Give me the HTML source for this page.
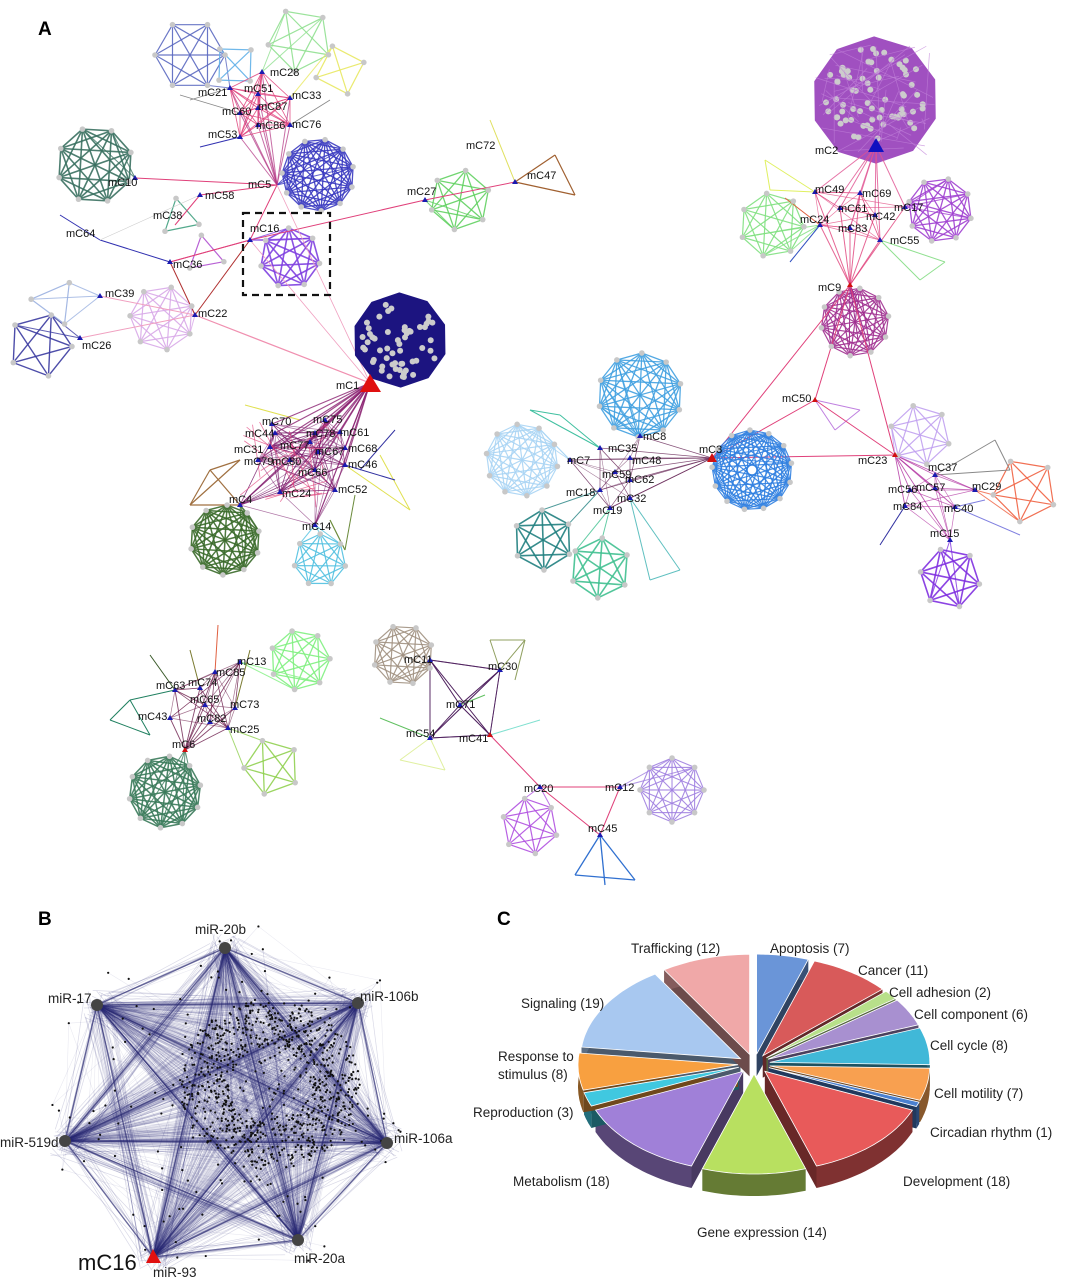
<!DOCTYPE html>
<html><head><meta charset="utf-8"><style>
html,body{margin:0;padding:0;background:#fff}
svg{display:block}
text{font-family:"Liberation Sans",sans-serif}
.l{font-size:11px;fill:#111}
.p{font-size:13.5px;fill:#222}
</style></head><body>
<svg id="s" width="1072" height="1280" viewBox="0 0 1072 1280" xmlns="http://www.w3.org/2000/svg">
<rect width="1072" height="1280" fill="#fff"/>
<g id="g"></g>
<rect x="243" y="213" width="87" height="82" fill="none" stroke="#111" stroke-width="2.2" stroke-dasharray="7,5"/>
<g id="labels">
<text x="38" y="35" font-size="19" font-weight="bold">A</text>
<text x="38" y="925" font-size="19" font-weight="bold">B</text>
<text x="497" y="925" font-size="19" font-weight="bold">C</text>
<g class="l">
<text x="270" y="76">mC28</text><text x="198" y="96">mC21</text><text x="244" y="92">mC51</text><text x="292" y="99">mC33</text>
<text x="258" y="110">mC87</text><text x="222" y="115">mC60</text><text x="256" y="129">mC86</text><text x="292" y="128">mC76</text>
<text x="208" y="138">mC53</text><text x="248" y="188">mC5</text><text x="108" y="186">mC10</text><text x="205" y="199">mC58</text>
<text x="153" y="219">mC38</text><text x="250" y="232">mC16</text><text x="66" y="237">mC64</text><text x="173" y="268">mC36</text>
<text x="105" y="297">mC39</text><text x="198" y="317">mC22</text><text x="82" y="349">mC26</text>
<text x="466" y="149">mC72</text><text x="527" y="179">mC47</text><text x="407" y="195">mC27</text>
<text x="336" y="389">mC1</text>
<text x="262" y="425">mC70</text><text x="313" y="423">mC75</text><text x="245" y="437">mC44</text><text x="306" y="437">mC78</text>
<text x="340" y="436">mC61</text><text x="234" y="453">mC31</text><text x="280" y="449">mC77</text><text x="315" y="455">mC67</text>
<text x="348" y="452">mC68</text><text x="244" y="465">mC79</text><text x="272" y="465">mC80</text><text x="298" y="476">mC66</text>
<text x="348" y="468">mC46</text><text x="338" y="493">mC52</text><text x="229" y="503">mC4</text><text x="282" y="497">mC24</text>
<text x="302" y="530">mC14</text>
<text x="815" y="154">mC2</text><text x="815" y="193">mC49</text><text x="862" y="197">mC69</text><text x="838" y="212">mC61</text>
<text x="894" y="211">mC17</text><text x="866" y="220">mC42</text><text x="800" y="223">mC24</text><text x="838" y="232">mC83</text>
<text x="890" y="244">mC55</text><text x="818" y="291">mC9</text><text x="782" y="402">mC50</text>
<text x="699" y="453">mC3</text><text x="643" y="440">mC8</text><text x="608" y="452">mC35</text><text x="567" y="464">mC7</text>
<text x="632" y="464">mC48</text><text x="602" y="478">mC59</text><text x="625" y="483">mC62</text><text x="566" y="496">mC18</text>
<text x="617" y="502">mC32</text><text x="593" y="514">mC19</text>
<text x="858" y="464">mC23</text><text x="928" y="471">mC37</text><text x="888" y="493">mC56</text><text x="916" y="491">mC57</text>
<text x="972" y="490">mC29</text><text x="893" y="510">mC84</text><text x="944" y="512">mC40</text><text x="930" y="537">mC15</text>
<text x="216" y="676">mC85</text><text x="156" y="689">mC63</text><text x="188" y="686">mC74</text><text x="237" y="665">mC13</text>
<text x="190" y="703">mC65</text><text x="230" y="708">mC73</text><text x="138" y="720">mC43</text><text x="197" y="722">mC82</text>
<text x="230" y="733">mC25</text><text x="172" y="748">mC6</text>
<text x="404" y="663">mC11</text><text x="488" y="670">mC30</text><text x="446" y="708">mC71</text><text x="406" y="737">mC54</text>
<text x="459" y="742">mC41</text><text x="524" y="792">mC20</text><text x="605" y="791">mC12</text><text x="588" y="832">mC45</text>
</g>
<g class="p">
<text x="195" y="934">miR-20b</text><text x="360" y="1001">miR-106b</text><text x="48" y="1003">miR-17</text>
<text x="394" y="1143">miR-106a</text><text x="0" y="1147">miR-519d</text><text x="294" y="1263">miR-20a</text>
<text x="153" y="1277">miR-93</text>
</g>
<text x="78" y="1270" font-size="22" fill="#111">mC16</text>
<g class="p">
<text x="631" y="953">Trafficking (12)</text><text x="770" y="953">Apoptosis (7)</text><text x="858" y="975">Cancer (11)</text>
<text x="889" y="997">Cell adhesion (2)</text><text x="914" y="1019">Cell component (6)</text><text x="930" y="1050">Cell cycle (8)</text>
<text x="934" y="1098">Cell motility (7)</text><text x="930" y="1137">Circadian rhythm (1)</text><text x="903" y="1186">Development (18)</text>
<text x="697" y="1237">Gene expression (14)</text><text x="513" y="1186">Metabolism (18)</text><text x="473" y="1117">Reproduction (3)</text>
<text x="498" y="1061">Response to</text><text x="498" y="1079">stimulus (8)</text><text x="521" y="1008">Signaling (19)</text>
</g>
</g>
</svg>
<script>
const ns="http://www.w3.org/2000/svg",G=document.getElementById('g');
function el(t,a,p){const e=document.createElementNS(ns,t);for(const k in a)e.setAttribute(k,a[k]);(p||G).appendChild(e);return e}
let seed=7;function rnd(){seed=(seed*16807)%2147483647;return seed/2147483647}
function ln(x1,y1,x2,y2,c,w,o){el('line',{x1,y1,x2,y2,stroke:c,'stroke-width':w||1,'stroke-opacity':o==null?1:o})}
const dots=[];
function clique(cx,cy,r,n,c,w,ry){ry=ry||r;const p=[];const a0=rnd()*6;
 for(let i=0;i<n;i++){const a=a0+i*2*Math.PI/n;p.push([cx+r*Math.cos(a),cy+ry*Math.sin(a)])}
 for(let i=0;i<n;i++)for(let j=i+1;j<n;j++)ln(p[i][0],p[i][1],p[j][0],p[j][1],c,w||1.2,.9);
 p.forEach(q=>dots.push(q));return p}
function blob(cx,cy,r,fill,n){const p=[];for(let i=0;i<10;i++){const a=i*Math.PI/5+.3;p.push((cx+r*Math.cos(a))+','+(cy+r*Math.sin(a)))}
 el('polygon',{points:p.join(' '),fill,stroke:fill,'stroke-width':3});
 for(let i=0;i<n;i++){const a=rnd()*6.28,d=Math.sqrt(rnd())*r*.85;el('circle',{cx:cx+d*Math.cos(a),cy:cy+d*Math.sin(a),r:3,fill:'#ccc'})}}
const hubs=[];function H(x,y,c){hubs.push([x,y,c||'#1a1ab0'])}
const PK='#e0407a',DP='#6a1a5a';
function fan(x,y,pts,c,w,o){pts.forEach(p=>ln(x,y,p[0],p[1],c,w||1,o==null?.8:o))}
let p;
p=clique(190,55,35,6,'#5a68c0');fan(230,88,[p[0],p[1]],'#5a68c0');
p=clique(235,65,22,4,'#60b0e8');
p=clique(300,40,32,5,'#90e090');fan(262,72,[p[2],p[3]],'#90e090');
p=clique(340,70,25,4,'#e8e860');fan(290,98,[p[2]],'#e8e860');
p=clique(95,165,38,8,'#3a7060',1.6);fan(135,178,[p[0],p[1]],'#3a7060');
p=clique(318,175,36,11,'#3a3ac0',1.3);fan(277,185,[p[3],p[4],p[5]],'#3a3ac0');
p=clique(290,258,30,7,'#8040e0',1.6);fan(250,240,[p[2],p[3],p[4]],'#8040e0');
p=clique(180,218,20,3,'#40a080');p=clique(205,255,20,3,'#b050d0');
ln(100,240,170,262,'#3030b0',1);ln(60,215,100,240,'#3030b0',1);
p=clique(55,302,24,3,'#9ab0e0');fan(100,296,p,'#9ab0e0');
p=clique(162,318,32,7,'#d8a8e8',1.2);fan(195,315,[p[2],p[3]],'#d8a8e8');
p=clique(40,345,32,5,'#3a3aa0',1.4);fan(80,338,[p[0],p[1]],'#3a3aa0');
p=clique(460,200,30,6,'#60d060',1.3);fan(425,200,[p[2],p[3]],'#60d060');
ln(490,120,515,182,'#e0e060',1);ln(515,182,555,155,'#a06030',1.2);ln(515,182,575,195,'#a06030',1.2);ln(555,155,575,195,'#a06030',1.2);
ln(190,100,230,88,'#888',.8);ln(180,95,240,113,'#888',.8);ln(330,100,290,125,'#888',.8);ln(200,147,240,137,'#3030b0');
const tl=[[230,88],[258,94],[262,72],[258,108],[290,98],[240,113],[258,125],[290,125],[240,137]];
tl.forEach(a=>{tl.forEach(b=>ln(a[0],a[1],b[0],b[1],PK,.8,.6));ln(a[0],a[1],277,185,'#b03080',1,.7);H(a[0],a[1])});
[[135,178],[200,195],[250,240],[425,200],[515,182],[170,262],[100,296],[195,315],[80,338]].forEach(a=>H(a[0],a[1]));
ln(135,178,277,185,PK);ln(200,195,277,185,PK);ln(250,240,277,185,PK);ln(250,240,425,200,PK);ln(425,200,515,182,PK);
ln(170,262,250,240,PK);ln(195,315,250,240,'#b03030');ln(195,315,170,262,'#b03030');ln(100,296,195,315,'#f0a0c0');
ln(80,338,195,315,'#f0a0c0');ln(195,315,370,383,'#f090b0',1.2);ln(250,240,170,262,PK);ln(277,185,370,383,'#f0a0c0',.8);
ln(250,240,370,383,'#f0a0c0',.8);ln(175,225,200,195,PK);ln(100,240,200,195,'#ccc',.6);
blob(400,340,46,'#1c1480',55);
const m1=[[272,424],[325,420],[275,433],[315,433],[340,432],[270,447],[310,442],[318,452],[345,448],[258,460],[290,460],[315,470],[345,465],[335,490],[240,505],[280,492],[315,525]];
p=clique(225,540,35,10,'#3a6a2a',1.5);fan(240,505,p.slice(0,4),'#3a6a2a');
p=clique(320,560,26,7,'#50c0e0',1.2);fan(315,525,p.slice(3,6),'#50c0e0');
ln(210,470,190,505,'#a07040',1.2);ln(210,470,240,505,'#a07040',1.2);ln(190,505,240,505,'#a07040',1.2);
ln(240,460,190,505,'#a07040',1.2);ln(240,460,210,470,'#a07040',1.2);
ln(380,455,410,510,'#e0e050');ln(345,465,410,510,'#e0e050');ln(330,520,345,550,'#6a8a3a',1.2);ln(355,495,345,550,'#6a8a3a');
ln(245,405,300,420,'#e0e050');ln(345,465,395,480,'#3030a0');ln(360,470,395,430,'#3030a0');
m1.forEach(a=>{ln(a[0],a[1],370,383,'#8a2070',1.2,.8);m1.forEach(b=>{if(rnd()<.5)ln(a[0],a[1],b[0],b[1],'#7a1a6a',.7,.6)});H(a[0],a[1])});
for(let i=0;i<20;i++)ln(240+rnd()*100,420+rnd()*90,240+rnd()*100,420+rnd()*90,PK,.8,.7);
el('polygon',{points:'370,374 360,392 381,392',fill:'#e01010'});
blob(875,100,62,'#a050c0',70);
for(let i=0;i<40;i++){ln(815+rnd()*120,45+rnd()*110,815+rnd()*120,45+rnd()*110,'#c080d8',.7,.7)}
p=clique(940,210,32,8,'#a040d0',1.3);fan(905,207,[p[3],p[4],p[5]],'#a040d0');
p=clique(772,225,32,7,'#80e080',1.2);fan(820,225,[p[0],p[1],p[6]],'#80e080');
p=clique(855,322,34,10,'#a03090',1.2);
ln(765,160,815,192,'#e0f060');ln(765,160,770,190,'#e0f060');ln(770,190,815,192,'#e0f060');
ln(880,240,945,262,'#90e090');ln(880,240,920,280,'#90e090');ln(920,280,945,262,'#90e090');
ln(790,262,820,225,'#3050c0');ln(785,198,820,225,'#e06040');
const m2=[[815,192],[860,193],[840,208],[905,207],[875,215],[820,225],[850,228],[880,240]];
m2.forEach(a=>{ln(a[0],a[1],876,145,'#e05090',1,.8);ln(a[0],a[1],850,285,PK,1,.8);m2.forEach(b=>{if(rnd()<.4)ln(a[0],a[1],b[0],b[1],PK,.7,.7)});H(a[0],a[1])});
el('polygon',{points:'876,138 868,152 884,152',fill:'#1010c0'});
for(let i=0;i<6;i++)ln(850,285,830+rnd()*50,300+rnd()*50,'#a03090',1);
ln(850,285,712,458,PK,1);ln(850,285,815,400,PK,1);ln(850,285,895,455,PK,1);ln(712,458,815,400,PK,1);
ln(815,400,860,410,'#c080e0');ln(815,400,835,430,'#c080e0');ln(860,410,835,430,'#c080e0');
ln(712,458,895,455,PK,1);ln(815,400,895,455,PK,1);
p=clique(752,470,40,13,'#3080e0',1.2);fan(712,458,p.slice(5,9),'#3080e0');
p=clique(640,395,42,10,'#40a0e0',1.3);fan(640,436,p.slice(1,4),'#40a0e0');
p=clique(522,460,36,10,'#a8d4f4',1.2);fan(570,460,p.slice(7,10),'#a8d4f4');
p=clique(543,540,30,6,'#208080',1.6);fan(600,490,[p[4],p[5]],'#208080');
p=clique(600,568,30,6,'#40c090',1.6);fan(610,508,[p[3],p[4]],'#40c090');
ln(530,410,600,448,'#40c0a0');ln(560,415,600,448,'#40c0a0');ln(530,410,560,415,'#40c0a0');
ln(630,498,650,580,'#60c0c0');ln(630,498,680,570,'#60c0c0');ln(650,580,680,570,'#60c0c0');
const m3=[[640,436],[600,448],[570,460],[630,458],[615,472],[630,480],[600,490],[630,498],[610,508]];
m3.forEach(a=>{ln(a[0],a[1],712,458,'#6a2a5a',.8,.8);m3.forEach(b=>{if(rnd()<.4)ln(a[0],a[1],b[0],b[1],'#6a2a5a',.6,.6)});H(a[0],a[1])});
el('polygon',{points:'712,453 707,462 717,462',fill:'#d01010'});
p=clique(920,435,30,6,'#c0a0f0',1.2);fan(895,455,[p[2],p[3]],'#c0a0f0');
p=clique(1025,490,32,5,'#f06040',1.2);fan(975,490,[p[2],p[3]],'#f06040');
ln(935,475,995,440,'#888');ln(935,475,1010,470,'#888');ln(995,440,1010,470,'#888');
p=clique(950,578,30,6,'#8030e0',1.6);fan(950,540,[p[3],p[4]],'#8030e0');
ln(905,506,880,545,'#3030a0');ln(955,507,1020,535,'#8080e0');ln(955,507,985,500,'#8080e0');
const m4=[[935,475],[910,490],[935,488],[975,490],[905,506],[955,507],[950,540]];
m4.forEach(a=>{ln(a[0],a[1],895,455,'#b030a0',.9,.8);m4.forEach(b=>{if(rnd()<.4)ln(a[0],a[1],b[0],b[1],'#b030a0',.7,.7)});H(a[0],a[1])});
H(895,455,'#d01010');H(815,400,'#d01010');H(850,285,'#d01010');
p=clique(165,792,36,10,'#3a7a5a',1.5);fan(185,750,p.slice(4,8),'#3a7a5a');
p=clique(300,660,30,7,'#80f080',1.3);fan(240,662,[p[3],p[4]],'#80f080');
p=clique(272,767,28,5,'#90d050',1.3);fan(228,728,[p[2],p[3]],'#90d050');
ln(130,700,110,720,'#208060');ln(110,720,150,735,'#208060');ln(130,700,150,735,'#208060');ln(130,700,175,690,'#208060');
ln(215,672,218,625,'#e06040');ln(190,650,200,688,'#7a7a30');ln(150,655,175,690,'#3a5a2a');ln(250,650,235,708,'#7a7a30');
const m6=[[240,662],[215,672],[175,690],[200,688],[205,705],[235,708],[170,718],[210,722],[228,728]];
m6.forEach(a=>{ln(a[0],a[1],185,750,'#6a1a4a',.9,.8);m6.forEach(b=>{if(rnd()<.5)ln(a[0],a[1],b[0],b[1],'#6a1a4a',.7,.6)});H(a[0],a[1])});
H(185,750,'#d01010');
p=clique(403,655,30,8,'#a09080',1.2);fan(430,660,[p[0],p[1]],'#a09080');
ln(500,670,490,640,'#90a060');ln(490,640,525,640,'#90a060');ln(525,640,515,680,'#90a060');ln(500,670,525,640,'#90a060');
ln(430,738,400,760,'#e0f0a0');ln(430,738,445,770,'#e0f0a0');ln(400,760,445,770,'#e0f0a0');
ln(490,735,540,720,'#80e0d0');ln(430,738,380,718,'#60c060');ln(460,705,485,695,'#60c060');
const m11=[[430,660],[500,670],[460,705],[430,738],[490,735]];
m11.forEach(a=>{m11.forEach(b=>ln(a[0],a[1],b[0],b[1],'#4a1a5a',.9,.8));H(a[0],a[1])});
ln(490,735,540,787,PK);ln(540,787,620,787,PK);ln(540,787,600,835,PK);ln(600,835,620,787,PK);
p=clique(530,826,28,6,'#b050e0',1.2);fan(540,787,[p[4],p[5]],'#b050e0');
p=clique(672,790,32,8,'#a080e0',1.1);fan(620,787,[p[3],p[4]],'#a080e0');
ln(600,835,575,875,'#3070d0',1.3);ln(600,835,635,880,'#3070d0',1.3);ln(575,875,635,880,'#3070d0',1.3);ln(600,835,605,885,'#3070d0',1.3);
[[540,787],[620,787],[600,835]].forEach(a=>H(a[0],a[1]));H(490,735,'#d01010');
dots.forEach(d=>el('circle',{cx:d[0],cy:d[1],r:2.8,fill:'#c8c8c8'}));
hubs.forEach(h=>el('polygon',{points:`${h[0]},${h[1]-3} ${h[0]-3},${h[1]+2} ${h[0]+3},${h[1]+2}`,fill:h[2]}));
// ---- Panel B
const BH=[[225,948],[358,1003],[387,1143],[298,1240],[153,1257],[65,1141],[97,1005]];
const bp=[];const cx=270,cy=1085;
for(let i=0;i<750;i++){const a=rnd()*6.28,d=40+rnd()*50;bp.push([cx+d*Math.cos(a),cy+d*0.95*Math.sin(a)])}
for(let i=0;i<250;i++){const h=BH[Math.floor(rnd()*7)],t=rnd();const q=[h[0]+(cx-h[0])*t+(rnd()-.5)*70,h[1]+(cy-h[1])*t+(rnd()-.5)*70];bp.push(q)}
BH.forEach(h=>{for(let i=0;i<280;i++){const q=bp[Math.floor(rnd()*bp.length)];ln(h[0],h[1],q[0],q[1],'#2a2a7a',.6,.1)}});
for(let i=0;i<7;i++)for(let j=0;j<7;j++){if(i==j)continue;const h=BH[i],k=BH[j];const d=Math.min((i-j+7)%7,(j-i+7)%7);
 const n=d==1?4:14;for(let m=0;m<n;m++)ln(h[0]+(rnd()-.5)*4,h[1]+(rnd()-.5)*4,k[0]+(rnd()-.5)*30,k[1]+(rnd()-.5)*30,'#2a2a7a',.7,.18)}
BH.forEach(h=>BH.forEach(k=>ln(h[0],h[1],k[0],k[1],'#2a2a70',1.3,.45)));
bp.forEach(q=>el('circle',{cx:q[0],cy:q[1],r:1.1,fill:'#111'}));
BH.forEach((h,i)=>{if(i==4)el('polygon',{points:'153,1249 146,1263 161,1263',fill:'#e01010'});else el('circle',{cx:h[0],cy:h[1],r:6,fill:'#444'})});
// ---- Panel C pie
const S=[[7,'#6a95d8'],[11,'#d85a5a'],[2,'#b8e08a'],[6,'#a890d0'],[8,'#40b8d8'],[7,'#f8a050'],[1,'#4a80d0'],[18,'#e85a5a'],[14,'#b8e060'],[18,'#a080d8'],[3,'#40c8e0'],[8,'#f8a040'],[19,'#a8c8f0'],[12,'#f0a8a8']];
const PX=754,PY=1064,RX=160,RY=100,D=22,EX=10;
function dk(c,f){const n=parseInt(c.slice(1),16);let r=n>>16,g=(n>>8)&255,b=n&255;return `rgb(${r*f|0},${g*f|0},${b*f|0})`}
let acc=0;const tops=[],sides=[];
S.forEach(([v,c],i)=>{const a0=acc/134*2*Math.PI,a1=(acc+v)/134*2*Math.PI;acc+=v;const am=(a0+a1)/2;
 const ox=PX+EX*1.6*Math.sin(am),oy=PY-EX*Math.cos(am);
 const P=a=>[ox+RX*Math.sin(a),oy-RY*Math.cos(a)];
 const pts=[];for(let k=0;k<=24;k++)pts.push(P(a0+(a1-a0)*k/24));
 const top=`M${ox},${oy} `+pts.map(q=>'L'+q[0].toFixed(1)+','+q[1].toFixed(1)).join(' ')+'Z';
 const side='M'+pts.map(q=>q[0].toFixed(1)+','+q[1].toFixed(1)).join(' L')+' '+pts.slice().reverse().map(q=>'L'+q[0].toFixed(1)+','+(q[1]+D).toFixed(1)).join(' ')+'Z';
 const s1=`M${ox},${oy} L${pts[0][0]},${pts[0][1]} L${pts[0][0]},${pts[0][1]+D} L${ox},${oy+D}Z`;
 const s2=`M${ox},${oy} L${pts[24][0]},${pts[24][1]} L${pts[24][0]},${pts[24][1]+D} L${ox},${oy+D}Z`;
 sides.push([s1,dk(c,.45)],[s2,dk(c,.45)],[side,dk(c,.55)]);tops.push([top,c]);});
sides.forEach(s=>el('path',{d:s[0],fill:s[1]}));
tops.forEach(s=>el('path',{d:s[0],fill:s[1],stroke:'#fff','stroke-width':.8}));
</script>
</body></html>
